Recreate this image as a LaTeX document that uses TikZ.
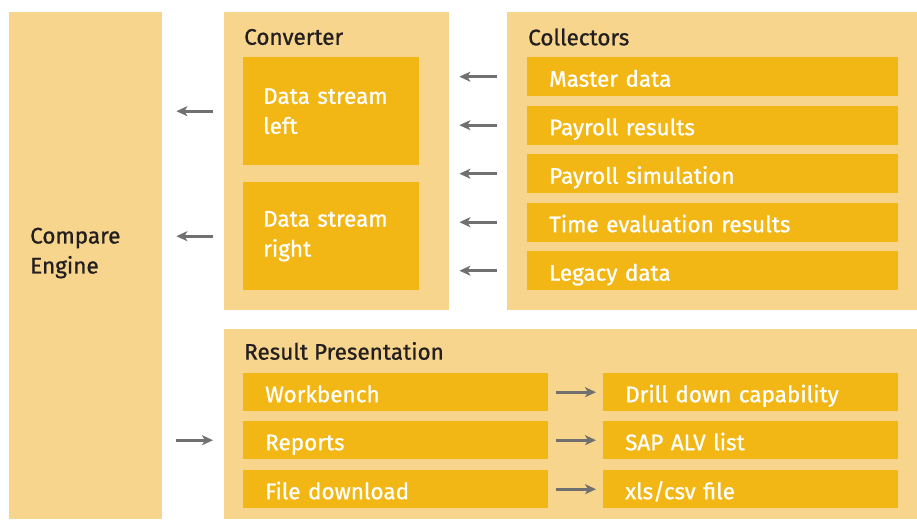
\documentclass[tikz,border=0pt]{standalone}
\usepackage{fontspec}
\setmainfont{Fira Sans}[FakeBold=0.9]
\usetikzlibrary{arrows.meta}
\definecolor{panelc}{HTML}{F7D58D}
\definecolor{boxc}{HTML}{F2B714}
\definecolor{arrc}{HTML}{707070}
\definecolor{titc}{HTML}{231F20}
\tikzset{
  panel/.style={fill=panelc, draw=none, anchor=north west, inner sep=0pt},
  ybox/.style={fill=boxc, draw=none, anchor=north west, inner xsep=20pt, inner ysep=0pt,
     text=white, align=left, font=\fontsize{22.5}{30}\selectfont},
  ttl/.style={anchor=west, inner sep=0pt, text=titc, font=\fontsize{22.5}{30}\selectfont},
  arr/.style={draw=arrc, line width=3pt, -{Stealth[length=11pt,width=10pt,inset=3pt]}},
  oneline/.style={text height=22pt, text depth=2pt}
}
\begin{document}
\begin{tikzpicture}[x=1pt,y=-1pt]
\useasboundingbox (0,0) rectangle (917,519);
% panels
\node[panel, minimum width=153pt, minimum height=507pt] (ce) at (9,12) {};
\node[panel, minimum width=225pt, minimum height=298pt] (conv) at (224,12) {};
\node[panel, minimum width=410pt, minimum height=298pt] (coll) at (507,12) {};
\node[panel, minimum width=693pt, minimum height=190pt] (rp) at (224,329) {};
% titles
\node[ttl, align=left] (cet) at (30,253) {Compare\\Engine};
\node[ttl] (convt) at (244,37) {Converter};
\node[ttl] (collt) at (528,37) {Collectors};
\node[ttl] (rpt) at (244,351) {Result Presentation};
% converter boxes
\node[ybox, minimum width=176pt, minimum height=108pt, text width=136pt] (dsl) at (243,57) {Data stream\\left};
\node[ybox, minimum width=176pt, minimum height=108pt, text width=136pt] (dsr) at (243,182) {Data stream\\right};
% collector items
\tikzset{citem/.style={ybox, oneline, inner xsep=22pt, minimum width=371pt, minimum height=39pt, text width=327pt}}
\node[citem] (md) at (527,57) {Master data};
\node[citem] (pr) at (527,105.5) {Payroll results};
\node[citem] (ps) at (527,154) {Payroll simulation};
\node[citem] (te) at (527,202.5) {Time evaluation results};
\node[citem] (ld) at (527,251) {Legacy data};
% result rows
\tikzset{litem/.style={ybox, oneline, inner xsep=22pt, minimum width=305pt, minimum height=38pt, text width=261pt},
         ritem/.style={ybox, oneline, inner xsep=22pt, minimum width=295pt, minimum height=38pt, text width=251pt}}
\node[litem] (wb) at (243,373) {Workbench};
\node[litem] (rep) at (243,421) {Reports};
\node[litem] (fd) at (243,470) {File download};
\node[ritem] (dd) at (603,373) {Drill down capability};
\node[ritem] (alv) at (603,421) {SAP ALV list};
\node[ritem] (xls) at (603,470) {xls/csv file};
% arrows collectors -> converter
\foreach \n in {md,pr,ps,te,ld}
  \draw[arr, shorten <=10pt, shorten >=10pt] (\n.west -| coll.west) -- (\n.west -| conv.east);
% converter -> compare engine
\draw[arr, shorten <=11pt, shorten >=14pt] (dsl.west -| conv.west) -- (dsl.west -| ce.east);
\draw[arr, shorten <=11pt, shorten >=14pt] (dsr.west -| conv.west) -- (dsr.west -| ce.east);
% compare engine -> result presentation
\draw[arr, shorten <=14pt, shorten >=11pt] (rep.west -| ce.east) -- (rep.west -| rp.west);
% result rows
\draw[arr, shorten <=8pt, shorten >=7pt] (wb.east) -- (dd.west);
\draw[arr, shorten <=8pt, shorten >=7pt] (rep.east) -- (alv.west);
\draw[arr, shorten <=8pt, shorten >=7pt] (fd.east) -- (xls.west);
\end{tikzpicture}
\end{document}
